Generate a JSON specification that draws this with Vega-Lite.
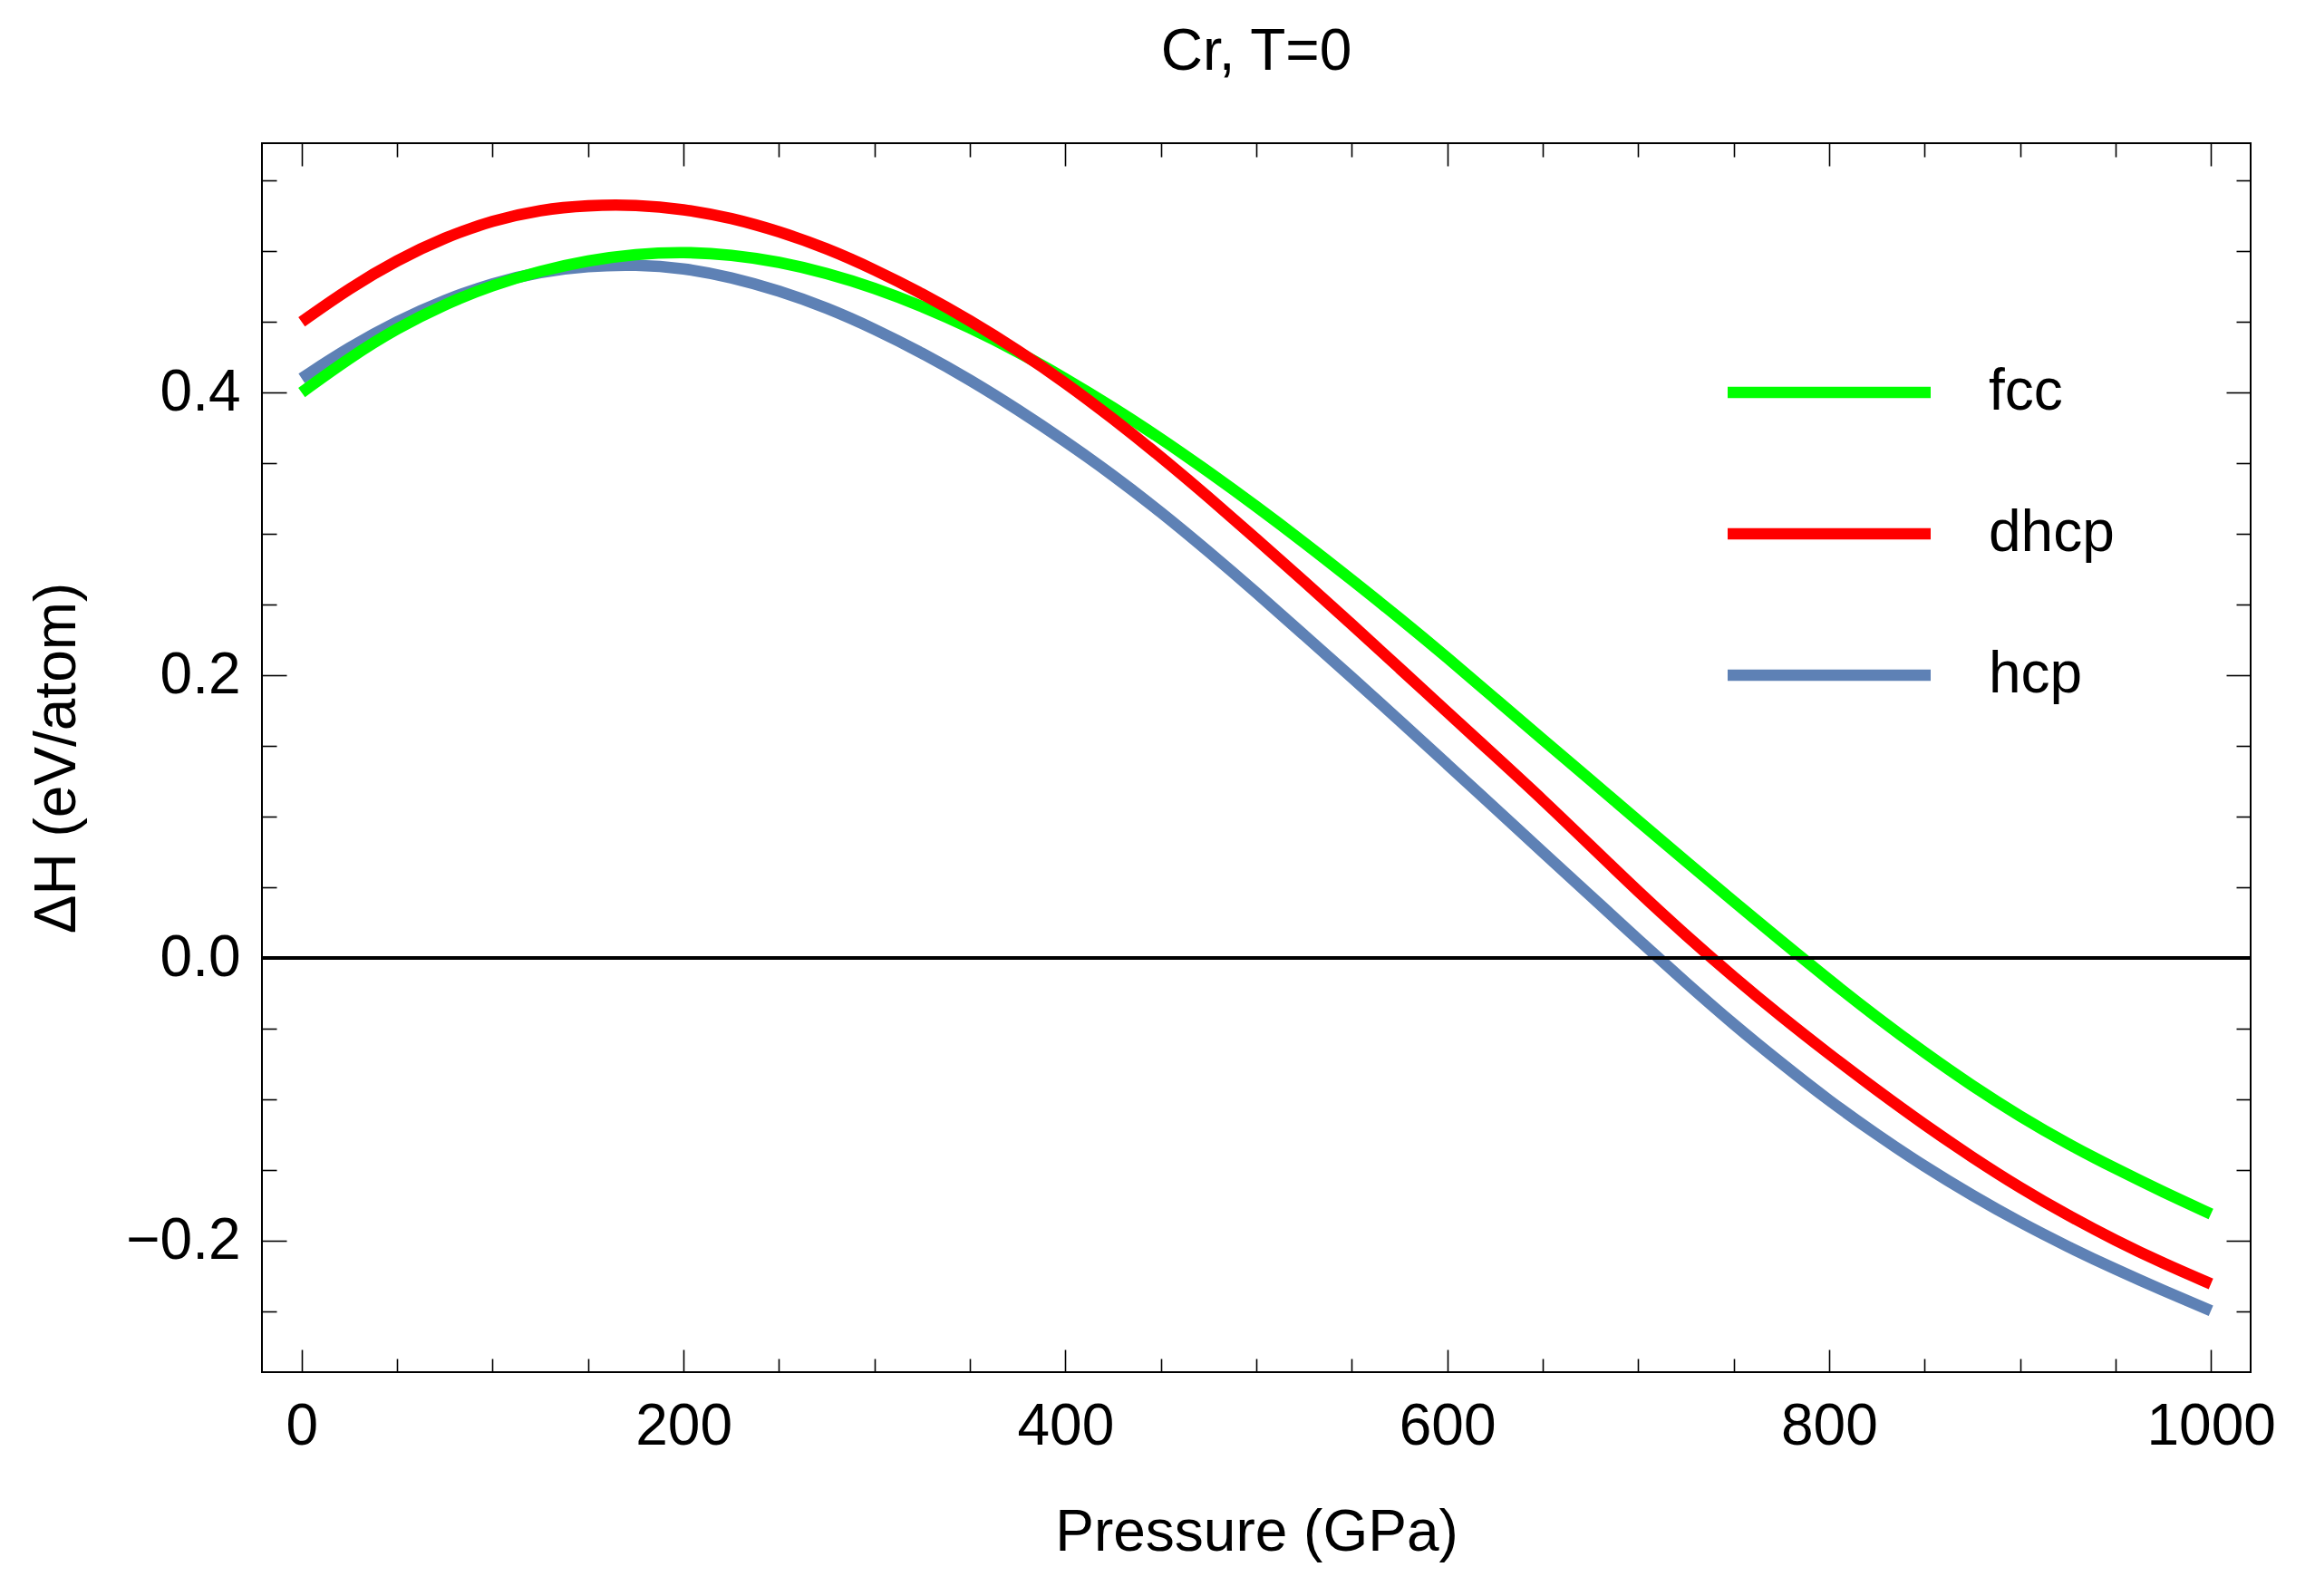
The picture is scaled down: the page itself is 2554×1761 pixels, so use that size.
{
  "$schema": "https://vega.github.io/schema/vega-lite/v6.json",
  "width": 2194,
  "height": 1356,
  "autosize": {"type": "none"},
  "padding": {"left": 289, "top": 158, "right": 71, "bottom": 247},
  "background": "white",
  "title": {"text": "Cr, T=0", "fontSize": 64, "font": "Liberation Sans", "fontWeight": "normal", "color": "black", "offset": 67, "anchor": "middle", "frame": "group"},
  "datasets": {
    "curves": [
      {"phase":"hcp","P":0,"H":0.410},{"phase":"hcp","P":25,"H":0.432},{"phase":"hcp","P":50,"H":0.4505},{"phase":"hcp","P":75,"H":0.4655},{"phase":"hcp","P":100,"H":0.4775},{"phase":"hcp","P":125,"H":0.4855},{"phase":"hcp","P":150,"H":0.4895},{"phase":"hcp","P":175,"H":0.4905},{"phase":"hcp","P":200,"H":0.4880},{"phase":"hcp","P":225,"H":0.4815},{"phase":"hcp","P":250,"H":0.4720},{"phase":"hcp","P":275,"H":0.4600},{"phase":"hcp","P":300,"H":0.4450},{"phase":"hcp","P":325,"H":0.4280},{"phase":"hcp","P":350,"H":0.4090},{"phase":"hcp","P":375,"H":0.3880},{"phase":"hcp","P":400,"H":0.3655},{"phase":"hcp","P":425,"H":0.3415},{"phase":"hcp","P":450,"H":0.3155},{"phase":"hcp","P":475,"H":0.2875},{"phase":"hcp","P":500,"H":0.2585},{"phase":"hcp","P":525,"H":0.2285},{"phase":"hcp","P":550,"H":0.1985},{"phase":"hcp","P":575,"H":0.1680},{"phase":"hcp","P":600,"H":0.1370},{"phase":"hcp","P":625,"H":0.1060},{"phase":"hcp","P":650,"H":0.0750},{"phase":"hcp","P":675,"H":0.0440},{"phase":"hcp","P":700,"H":0.0130},{"phase":"hcp","P":725,"H":-0.0175},{"phase":"hcp","P":750,"H":-0.0470},{"phase":"hcp","P":775,"H":-0.0745},{"phase":"hcp","P":800,"H":-0.1010},{"phase":"hcp","P":825,"H":-0.1250},{"phase":"hcp","P":850,"H":-0.1475},{"phase":"hcp","P":875,"H":-0.1680},{"phase":"hcp","P":900,"H":-0.1870},{"phase":"hcp","P":925,"H":-0.2042},{"phase":"hcp","P":950,"H":-0.2202},{"phase":"hcp","P":975,"H":-0.2352},{"phase":"hcp","P":1000,"H":-0.2495},
      {"phase":"fcc","P":0,"H":0.400},{"phase":"fcc","P":25,"H":0.4245},{"phase":"fcc","P":50,"H":0.4455},{"phase":"fcc","P":75,"H":0.4625},{"phase":"fcc","P":100,"H":0.4760},{"phase":"fcc","P":125,"H":0.4860},{"phase":"fcc","P":150,"H":0.4935},{"phase":"fcc","P":175,"H":0.4980},{"phase":"fcc","P":200,"H":0.4995},{"phase":"fcc","P":225,"H":0.4975},{"phase":"fcc","P":250,"H":0.4925},{"phase":"fcc","P":275,"H":0.4845},{"phase":"fcc","P":300,"H":0.4740},{"phase":"fcc","P":325,"H":0.4610},{"phase":"fcc","P":350,"H":0.4460},{"phase":"fcc","P":375,"H":0.4290},{"phase":"fcc","P":400,"H":0.4100},{"phase":"fcc","P":425,"H":0.3895},{"phase":"fcc","P":450,"H":0.3675},{"phase":"fcc","P":475,"H":0.3440},{"phase":"fcc","P":500,"H":0.3195},{"phase":"fcc","P":525,"H":0.2940},{"phase":"fcc","P":550,"H":0.2675},{"phase":"fcc","P":575,"H":0.2405},{"phase":"fcc","P":600,"H":0.2125},{"phase":"fcc","P":625,"H":0.1835},{"phase":"fcc","P":650,"H":0.1545},{"phase":"fcc","P":675,"H":0.1260},{"phase":"fcc","P":700,"H":0.0970},{"phase":"fcc","P":725,"H":0.0685},{"phase":"fcc","P":750,"H":0.0400},{"phase":"fcc","P":775,"H":0.0120},{"phase":"fcc","P":800,"H":-0.0155},{"phase":"fcc","P":825,"H":-0.0420},{"phase":"fcc","P":850,"H":-0.0670},{"phase":"fcc","P":875,"H":-0.0905},{"phase":"fcc","P":900,"H":-0.1120},{"phase":"fcc","P":925,"H":-0.1315},{"phase":"fcc","P":950,"H":-0.1490},{"phase":"fcc","P":975,"H":-0.1655},{"phase":"fcc","P":1000,"H":-0.1810},
      {"phase":"dhcp","P":0,"H":0.450},{"phase":"dhcp","P":25,"H":0.4738},{"phase":"dhcp","P":50,"H":0.4937},{"phase":"dhcp","P":75,"H":0.5097},{"phase":"dhcp","P":100,"H":0.5217},{"phase":"dhcp","P":125,"H":0.5293},{"phase":"dhcp","P":150,"H":0.5325},{"phase":"dhcp","P":175,"H":0.5328},{"phase":"dhcp","P":200,"H":0.5298},{"phase":"dhcp","P":225,"H":0.5235},{"phase":"dhcp","P":250,"H":0.5140},{"phase":"dhcp","P":275,"H":0.5020},{"phase":"dhcp","P":300,"H":0.4870},{"phase":"dhcp","P":325,"H":0.4700},{"phase":"dhcp","P":350,"H":0.4510},{"phase":"dhcp","P":375,"H":0.4300},{"phase":"dhcp","P":400,"H":0.4070},{"phase":"dhcp","P":425,"H":0.3815},{"phase":"dhcp","P":450,"H":0.3545},{"phase":"dhcp","P":475,"H":0.3260},{"phase":"dhcp","P":500,"H":0.2965},{"phase":"dhcp","P":525,"H":0.2665},{"phase":"dhcp","P":550,"H":0.2360},{"phase":"dhcp","P":575,"H":0.2050},{"phase":"dhcp","P":600,"H":0.1740},{"phase":"dhcp","P":625,"H":0.1430},{"phase":"dhcp","P":650,"H":0.1120},{"phase":"dhcp","P":675,"H":0.0795},{"phase":"dhcp","P":700,"H":0.0470},{"phase":"dhcp","P":725,"H":0.0160},{"phase":"dhcp","P":750,"H":-0.0135},{"phase":"dhcp","P":775,"H":-0.0415},{"phase":"dhcp","P":800,"H":-0.0680},{"phase":"dhcp","P":825,"H":-0.0935},{"phase":"dhcp","P":850,"H":-0.1180},{"phase":"dhcp","P":875,"H":-0.1410},{"phase":"dhcp","P":900,"H":-0.1625},{"phase":"dhcp","P":925,"H":-0.1820},{"phase":"dhcp","P":950,"H":-0.1998},{"phase":"dhcp","P":975,"H":-0.2160},{"phase":"dhcp","P":1000,"H":-0.2305}
    ]
  },
  "data": {"name": "curves"},
  "layer": [
    {
      "mark": {"type": "line", "strokeWidth": 12.6, "strokeCap": "butt", "interpolate": "basis"},
      "encoding": {
        "x": {"field": "P", "type": "quantitative", "scale": {"domain": [-20.8, 1020.8], "nice": false, "zero": false},
              "axis": {"orient": "bottom", "values": [0, 200, 400, 600, 800, 1000], "format": "d", "tickSize": -25, "labelPadding": 53, "title": "Pressure (GPa)", "titlePadding": 53}},
        "y": {"field": "H", "type": "quantitative", "scale": {"domain": [-0.2929, 0.5763], "nice": false, "zero": false},
              "axis": {"orient": "left", "values": [-0.2, 0, 0.2, 0.4], "format": ".1f", "tickSize": -27, "labelPadding": 51, "title": "ΔH (eV/atom)", "titlePadding": 43}},
        "color": {"field": "phase", "type": "nominal",
                  "scale": {"domain": ["fcc", "dhcp", "hcp"], "range": ["#00FF00", "#FF0000", "#5E81B5"]},
                  "legend": {"orient": "none", "legendX": 1697, "legendY": 243, "title": null, "direction": "vertical",
                             "symbolType": "M-5.6,0H5.6", "symbolSize": 1600, "symbolStrokeWidth": 12.6,
                             "labelFontSize": 64, "labelFont": "Liberation Sans", "labelColor": "black",
                             "labelOffset": 144, "rowPadding": 92, "padding": 0}}
      }
    },
    {
      "mark": {"type": "point", "opacity": 0, "size": 1},
      "encoding": {
        "x": {"field": "P", "type": "quantitative", "axis": {"orient": "bottom", "values": [50,100,150,250,300,350,450,500,550,650,700,750,850,900,950], "tickSize": -15, "labels": false, "title": null}},
        "y": {"field": "H", "type": "quantitative", "axis": {"orient": "left", "values": [-0.25,-0.15,-0.1,-0.05,0.05,0.1,0.15,0.25,0.3,0.35,0.45,0.5,0.55], "tickSize": -16, "labels": false, "title": null}}
      }
    },
    {
      "mark": {"type": "point", "opacity": 0, "size": 1},
      "encoding": {
        "x": {"field": "P", "type": "quantitative", "axis": {"orient": "top", "values": [0, 200, 400, 600, 800, 1000], "tickSize": -25, "labels": false, "title": null}},
        "y": {"field": "H", "type": "quantitative", "axis": {"orient": "right", "values": [-0.2, 0, 0.2, 0.4], "tickSize": -27, "labels": false, "title": null}}
      }
    },
    {
      "mark": {"type": "point", "opacity": 0, "size": 1},
      "encoding": {
        "x": {"field": "P", "type": "quantitative", "axis": {"orient": "top", "values": [50,100,150,250,300,350,450,500,550,650,700,750,850,900,950], "tickSize": -15, "labels": false, "title": null}},
        "y": {"field": "H", "type": "quantitative", "axis": {"orient": "right", "values": [-0.25,-0.15,-0.1,-0.05,0.05,0.1,0.15,0.25,0.3,0.35,0.45,0.5,0.55], "tickSize": -16, "labels": false, "title": null}}
      }
    },
    {
      "mark": {"type": "rule", "color": "black", "strokeWidth": 3.6},
      "encoding": {"y": {"datum": 0, "axis": null}}
    }
  ],
  "resolve": {"axis": {"x": "independent", "y": "independent"}},
  "config": {
    "view": {"stroke": "black", "strokeWidth": 2},
    "axis": {
      "domain": false, "grid": false, "tickColor": "black", "tickWidth": 1.6,
      "labelFont": "Liberation Sans", "labelFontSize": 64, "labelColor": "black",
      "labelFlush": false, "labelOverlap": false,
      "titleFont": "Liberation Sans", "titleFontSize": 64, "titleFontWeight": "normal", "titleColor": "black"
    }
  }
}
